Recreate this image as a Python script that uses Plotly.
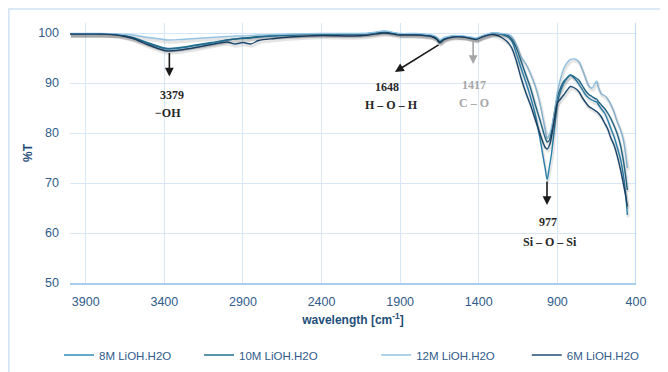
import plotly.graph_objects as go

# wavenumber grid (cm-1)
wavenumber = [4000, 3800, 3700, 3600, 3500, 3400, 3379, 3300, 3200, 3100,
              3000, 2950, 2900, 2850, 2800, 2700, 2600, 2400, 2200, 2100,
              2000, 1900, 1800, 1700, 1670, 1648, 1620, 1560, 1500, 1450,
              1417, 1380, 1320, 1280, 1250, 1220, 1190, 1160, 1130, 1100,
              1070, 1040, 1010, 990, 977, 965, 950, 940, 920, 900,
              880, 860, 840, 817, 790, 764, 740, 720, 700, 680,
              660, 650, 640, 620, 600, 580, 560, 540, 520, 500,
              480, 465, 455]

t_8M = [99.8, 99.8, 99.7, 99.0, 97.9, 96.9, 96.8, 97.0, 97.5, 98.0,
        98.6, 98.8, 98.9, 99.0, 99.2, 99.4, 99.6, 99.8, 99.8, 99.9,
        100.3, 99.8, 99.8, 99.5, 99.0, 98.2, 98.9, 99.4, 99.3, 99.0,
        98.8, 99.3, 99.9, 99.9, 99.7, 99.3, 98.4, 95.8, 92.9, 90.1,
        87.1, 83.6, 78.8, 75.1, 72.8, 70.7, 73.5, 75.3, 80.5, 86.0,
        88.3, 89.9, 90.9, 91.6, 90.9, 89.8, 88.6, 87.6, 87.0, 86.6,
        86.3, 86.2, 85.7, 84.8, 84.0, 82.6, 80.9, 79.3, 77.2, 75.0,
        71.5, 67.5, 63.6]

t_10M = [99.8, 99.8, 99.7, 99.1, 98.0, 97.0, 96.9, 97.1, 97.6, 98.1,
         98.6, 98.8, 99.0, 99.1, 99.3, 99.5, 99.6, 99.8, 99.7, 99.9,
         100.2, 99.8, 99.7, 99.4, 98.9, 98.3, 98.9, 99.4, 99.3, 99.0,
         98.8, 99.3, 99.9, 99.9, 99.8, 99.6, 98.8, 97.0, 94.3, 91.6,
         88.9, 85.6, 82.5, 80.3, 79.0, 78.2, 78.6, 80.0, 84.0, 87.3,
         89.0, 90.3, 91.0, 91.6, 91.2, 90.6, 89.4, 88.4, 87.7, 87.3,
         86.9, 86.8, 86.3, 85.6, 84.9, 84.0, 82.9, 81.5, 79.9, 77.7,
         74.5, 71.2, 68.6]

t_12M = [99.9, 99.9, 99.8, 99.6, 99.1, 98.7, 98.6, 98.7, 98.9, 99.1,
         99.3, 99.4, 99.4, 99.5, 99.6, 99.7, 99.8, 99.9, 99.9, 100.0,
         100.4, 99.9, 99.9, 99.6, 99.3, 98.7, 99.1, 99.5, 99.4, 99.2,
         99.0, 99.4, 100.0, 100.0, 99.9, 99.8, 99.3, 97.6, 95.2, 93.8,
         91.8, 89.3, 85.8, 82.7, 80.7, 78.9, 79.8, 80.8, 83.8, 88.2,
         90.9, 92.9, 94.0, 94.7, 94.8, 94.3, 92.6, 90.9, 89.4, 89.0,
         90.0, 90.4, 89.2, 87.8, 87.5, 86.8, 85.7, 84.2, 82.3, 80.8,
         78.6, 75.5, 73.0]

t_6M = [99.8, 99.8, 99.6, 98.9, 97.6, 96.5, 96.4, 96.6, 97.1, 97.7,
        98.2, 97.8, 98.1, 97.8, 98.5, 98.9, 99.2, 99.5, 99.4, 99.6,
        100.0, 99.6, 99.6, 99.3, 98.8, 98.0, 98.7, 99.2, 99.2, 98.9,
        98.7, 99.2, 99.7, 99.5, 99.0, 98.3, 97.0, 94.3, 90.9, 88.0,
        85.5, 82.6, 79.8, 78.0, 77.1, 76.8, 77.6, 78.8, 82.6, 86.0,
        86.8, 87.6, 88.5, 89.3, 89.0, 88.3, 87.0, 86.1, 85.3, 84.9,
        84.5, 84.3, 84.0, 83.2, 82.0, 80.8, 79.0, 77.6, 75.5, 72.9,
        69.8, 67.3, 65.3]

series_names = ["8M LiOH.H2O", "10M LiOH.H2O", "12M LiOH.H2O", "6M LiOH.H2O"]
series_values = [t_8M, t_10M, t_12M, t_6M]
series_colors = ["#2f8fbd", "#246f90", "#93c4e4", "#1f4e79"]

x_ticks = [3900, 3400, 2900, 2400, 1900, 1400, 900, 400]
y_ticks = [50, 60, 70, 80, 90, 100]

fig = go.Figure()

# soft shadow beneath lines (same data, on offset overlay axes)
for name, vals in zip(series_names, series_values):
    fig.add_trace(go.Scatter(
        x=wavenumber, y=vals, mode="lines", xaxis="x2", yaxis="y2",
        line=dict(color="rgba(0,0,0,0.10)", width=3, shape="spline", smoothing=0.8),
        showlegend=False, hoverinfo="skip"))

legend_ids = ["legend", "legend2", "legend3", "legend4"]
for name, vals, col, lg in zip(series_names, series_values, series_colors, legend_ids):
    fig.add_trace(go.Scatter(
        x=wavenumber, y=vals, mode="lines", name=name, legend=lg,
        line=dict(color=col, width=1.4, shape="spline", smoothing=0.8)))

tick_font = dict(family="Liberation Sans, Arial", size=12.5, color="#305b8a")
title_font = dict(family="Liberation Sans, Arial", size=12, color="#1f4e79")
legend_font = dict(family="Liberation Sans, Arial", size=11.5, color="#305b8a")
grid_col = "#d8e7f7"

legend_x = [-0.0194, 0.228, 0.541, 0.807]
legends = {}
for lg, lx in zip(legend_ids, legend_x):
    legends[lg] = dict(orientation="h", x=lx, xanchor="left", y=-0.277, yanchor="middle",
                       font=legend_font, itemwidth=30, bgcolor="rgba(0,0,0,0)")

# the page adds an 8px body margin, so the figure is 8px smaller and margins shifted
fig.update_layout(
    width=660, height=364,
    margin=dict(l=62, r=32, t=15, b=89, autoexpand=False),
    paper_bgcolor="white", plot_bgcolor="white",
    showlegend=True,
    xaxis=dict(range=[4000, 400], tickvals=x_ticks, showgrid=True, gridcolor=grid_col,
               gridwidth=1, zeroline=False, showline=True, linecolor="#a9cdec", linewidth=1.5,
               tickfont=tick_font, ticks="", ticklabelstandoff=6, automargin=False,
               title=dict(text="<b>wavelength [cm<sup>-1</sup>]</b>", font=title_font, standoff=8)),
    yaxis=dict(range=[50, 102], tickvals=y_ticks, showgrid=True, gridcolor=grid_col,
               gridwidth=1, zeroline=False, showline=False, automargin=False,
               tickfont=tick_font, ticks="", ticklabelstandoff=10,
               title=dict(text="<b>%T</b>", font=title_font, standoff=2)),
    xaxis2=dict(range=[4006, 406], overlaying="x", visible=False),
    yaxis2=dict(range=[50.45, 102.45], overlaying="y", visible=False),
    **legends,
)

# right plot edge line and chart border
fig.add_shape(type="line", xref="x", yref="paper", x0=400, x1=400, y0=0, y1=1,
              line=dict(color="#a9cdec", width=1.5))
fig.add_shape(type="rect", xref="paper", yref="paper", x0=-0.108, x1=1.3, y0=-0.6, y1=1.054,
              line=dict(color="#cfe2f4", width=1.5), fillcolor="rgba(0,0,0,0)", layer="below")

lab_font = dict(family="Liberation Serif, Times New Roman", size=12, color="#262626")
gray_font = dict(family="Liberation Serif, Times New Roman", size=12, color="#a6a6a6")

def arrow(x_tip, y_tip, x_tail, y_tail, col):
    fig.add_annotation(x=x_tip, y=y_tip, ax=x_tail, ay=y_tail, axref="x", ayref="y",
                       xref="x", yref="y", text="", showarrow=True,
                       arrowhead=2, arrowsize=1.1, arrowwidth=1.6, arrowcolor=col)

def label(x, y, txt, font):
    fig.add_annotation(x=x, y=y, xref="x", yref="y", text="<b>" + txt + "</b>",
                       showarrow=False, font=font)

arrow(3368, 91.3, 3368, 96.3, "#1a1a1a")
label(3352, 87.6, "3379", lab_font)
label(3377, 84.0, "−OH", lab_font)

arrow(1933, 92.2, 1646, 97.8, "#1a1a1a")
label(1983, 89.2, "1648", lab_font)
label(1958, 85.6, "H – O – H", lab_font)

arrow(1436, 93.8, 1436, 98.7, "#a6a6a6")
label(1430, 89.6, "1417", gray_font)
label(1430, 86.0, "C – O", gray_font)

arrow(966, 65.6, 966, 70.6, "#1a1a1a")
label(959, 62.2, "977", lab_font)
label(946, 58.2, "Si – O – Si", lab_font)

fig.write_html("out.html")
